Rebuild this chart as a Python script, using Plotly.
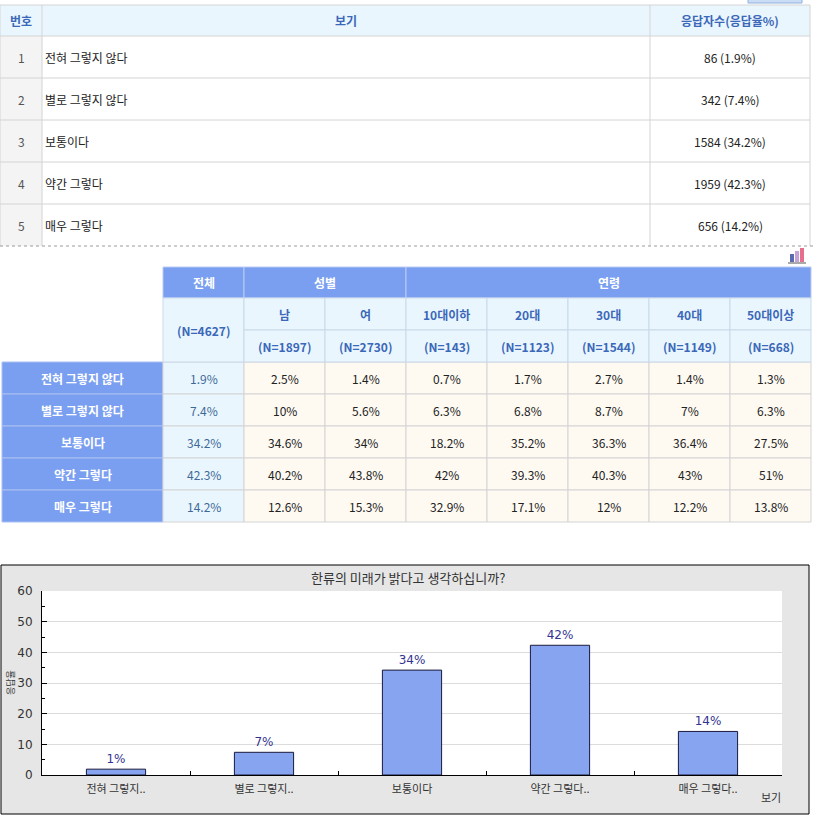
import plotly.graph_objects as go

# survey answers
options = ["전혀 그렇지 않다", "별로 그렇지 않다", "보통이다", "약간 그렇다", "매우 그렇다"]
short_options = ["전혀 그렇지..", "별로 그렇지..", "보통이다", "약간 그렇다..", "매우 그렇다.."]
counts = [86, 342, 1584, 1959, 656]
rates = [1.9, 7.4, 34.2, 42.3, 14.2]

# cross table by group
groups = ["전체", "남", "여", "10대이하", "20대", "30대", "40대", "50대이상"]
group_n = [4627, 1897, 2730, 143, 1123, 1544, 1149, 668]
pct_total = [1.9, 7.4, 34.2, 42.3, 14.2]
pct_male = [2.5, 10, 34.6, 40.2, 12.6]
pct_female = [1.4, 5.6, 34, 43.8, 15.3]
pct_10s = [0.7, 6.3, 18.2, 42, 32.9]
pct_20s = [1.7, 6.8, 35.2, 39.3, 17.1]
pct_30s = [2.7, 8.7, 36.3, 40.3, 12]
pct_40s = [1.4, 7, 36.4, 43, 12.2]
pct_50s = [1.3, 6.3, 27.5, 51, 13.8]
group_cols = [pct_total, pct_male, pct_female, pct_10s, pct_20s, pct_30s, pct_40s, pct_50s]

chart_title = "한류의 미래가 밝다고 생각하십니까?"

# page layout (pixels)
W, H = 814, 821
T1_X = [0, 42, 650, 810]
T1_Y = [5, 36, 78, 120, 162, 204, 246]
T2_X = [0, 163, 244, 325, 406, 487, 568, 649, 730, 811]
T2_Y = [267, 298, 330, 362, 394, 426, 458, 490, 522]
PLOT_X = (42, 782)
PLOT_Y = (591, 775)

KR = "Noto Sans CJK KR"
BLUE = "#7b9ff0"
LIGHT = "#eaf6fe"
CREAM = "#fefaf2"
HEAD_TXT = "#3b68b8"
GRID = "#d4d4d4"

shapes = []
notes = []


def rect(x0, y0, x1, y1, fill, line=None, width=1):
    shapes.append(dict(type="rect", xref="x2", yref="y2", x0=x0, y0=y0, x1=x1, y1=y1,
                       fillcolor=fill, line=dict(color=line or fill, width=width if line else 0),
                       layer="above"))


def hline(x0, x1, y, color=GRID, dash="solid"):
    shapes.append(dict(type="line", xref="x2", yref="y2", x0=x0, x1=x1, y0=y, y1=y,
                       line=dict(color=color, width=1, dash=dash), layer="above"))


def vline(x, y0, y1, color=GRID):
    shapes.append(dict(type="line", xref="x2", yref="y2", x0=x, x1=x, y0=y0, y1=y1,
                       line=dict(color=color, width=1), layer="above"))


def text(x, y, s, size=12, color="#333", bold=False, align="center", angle=0, family=KR):
    notes.append(dict(xref="x2", yref="y2", x=x, y=y, text=f"<b>{s}</b>" if bold else s,
                      showarrow=False, xanchor={"center": "center", "left": "left"}[align],
                      yanchor="middle", textangle=angle,
                      font=dict(family=family, size=size, color=color)))


# ---- table 1 ----
rect(T1_X[0], T1_Y[0], T1_X[-1], T1_Y[1], LIGHT)
for i in range(len(options)):
    rect(T1_X[0], T1_Y[i + 1], T1_X[1], T1_Y[i + 2], "#f4f4f4")
for y in T1_Y[:-1]:
    hline(T1_X[0], T1_X[-1], y)
for x in T1_X:
    vline(x, T1_Y[0], T1_Y[-1])
hline(0, W, T1_Y[-1], color="#9a9a9a", dash="dot")
# button edge in the corner
shapes.append(dict(type="rect", xref="x2", yref="y2", x0=748, x1=802, y0=-6, y1=3,
                   fillcolor="#c9ddf6", line=dict(color="#8fb0e0", width=1), layer="above"))

hy = (T1_Y[0] + T1_Y[1]) / 2
text((T1_X[0] + T1_X[1]) / 2, hy, "번호", bold=True, color=HEAD_TXT)
text((T1_X[1] + T1_X[2]) / 2, hy, "보기", bold=True, color=HEAD_TXT)
text((T1_X[2] + T1_X[3]) / 2, hy, "응답자수(응답율%)", bold=True, color=HEAD_TXT)
for i, opt in enumerate(options):
    cy = (T1_Y[i + 1] + T1_Y[i + 2]) / 2
    text((T1_X[0] + T1_X[1]) / 2, cy, str(i + 1), color="#555")
    text(T1_X[1] + 1, cy, opt, align="left", color="#222")
    text((T1_X[2] + T1_X[3]) / 2, cy, f"{counts[i]} ({rates[i]}%)", color="#222")

# chart icon
icon = [(790, 254, 794, 262, "#5a6bb0"), (795, 251, 799, 262, "#c7a2d6"), (800, 248, 804, 262, "#e46f8f")]
for x0, y0, x1, y1, c in icon:
    rect(x0, y0, x1, y1, c)
hline(788, 806, 263, color="#555")

# ---- table 2 ----
# data cells
for i in range(len(options)):
    y0, y1 = T2_Y[i + 3], T2_Y[i + 4]
    rect(2, y0, T2_X[1], y1, BLUE, line="#a9bff3")
    text(T2_X[1] / 2 + 1, (y0 + y1) / 2, options[i], bold=True, color="white")
    for j, col in enumerate(group_cols):
        x0, x1 = T2_X[j + 1], T2_X[j + 2]
        rect(x0, y0, x1, y1, LIGHT if j == 0 else CREAM, line=GRID)
        text((x0 + x1) / 2, (y0 + y1) / 2, f"{col[i]:g}%",
             color="#3d6a98" if j == 0 else "#222")

# header cells
top, mid, sub, bot = T2_Y[0], T2_Y[1], T2_Y[2], T2_Y[3]
rect(T2_X[1], top, T2_X[2], mid, BLUE, line="#b8caf4")
rect(T2_X[2], top, T2_X[4], mid, BLUE, line="#b8caf4")
rect(T2_X[4], top, T2_X[9], mid, BLUE, line="#b8caf4")
text((T2_X[1] + T2_X[2]) / 2, (top + mid) / 2, groups[0], bold=True, color="white")
text((T2_X[2] + T2_X[4]) / 2, (top + mid) / 2, "성별", bold=True, color="white")
text((T2_X[4] + T2_X[9]) / 2, (top + mid) / 2, "연령", bold=True, color="white")
rect(T2_X[1], mid, T2_X[2], bot, LIGHT, line="#c9d9ea")
text((T2_X[1] + T2_X[2]) / 2, (mid + bot) / 2, f"(N={group_n[0]})", bold=True, color=HEAD_TXT)
for j in range(1, len(groups)):
    x0, x1 = T2_X[j + 1], T2_X[j + 2]
    rect(x0, mid, x1, sub, LIGHT, line="#c9d9ea")
    rect(x0, sub, x1, bot, LIGHT, line="#c9d9ea")
    text((x0 + x1) / 2, (mid + sub) / 2, groups[j], bold=True, color=HEAD_TXT)
    text((x0 + x1) / 2, (sub + bot) / 2, f"(N={group_n[j]})", bold=True, color=HEAD_TXT)

# ---- bar chart frame ----
shapes.insert(0, dict(type="rect", xref="paper", yref="paper", x0=1 / W, x1=809 / W,
                      y0=1 - 814 / H, y1=1 - 565 / H, fillcolor="#e6e6e6",
                      line=dict(color="black", width=1), layer="below"))
shapes.insert(1, dict(type="rect", xref="x domain", yref="y domain", x0=0, x1=1, y0=0, y1=1,
                      fillcolor="white", line=dict(width=0), layer="below"))
text(408, 577, chart_title, size=13, color="#333")
text(771, 797, "보기", size=11, color="#333")
text(10, 683, "응답율", size=9, color="#333", angle=-90)

fig = go.Figure()
fig.add_trace(go.Bar(
    x=short_options, y=rates,
    text=[f"{int(r)}%" for r in rates],
    textposition="outside",
    textfont=dict(family="DejaVu Sans", size=12, color="#33338f"),
    marker=dict(color="#86a4ef", line=dict(color="#1a1a3c", width=1)),
    width=0.4, cliponaxis=False, hoverinfo="skip",
))
# pixel canvas for the tables
fig.add_trace(go.Scatter(x=[0, W], y=[0, H], mode="markers", marker=dict(opacity=0),
                         xaxis="x2", yaxis="y2", hoverinfo="skip", showlegend=False))

fig.update_layout(
    width=W, height=H,
    margin=dict(l=0, r=0, t=0, b=0, autoexpand=False),
    paper_bgcolor="white",
    plot_bgcolor="rgba(0,0,0,0)",
    showlegend=False,
    shapes=shapes,
    annotations=notes,
    xaxis=dict(
        domain=[PLOT_X[0] / W, PLOT_X[1] / W], automargin=False,
        showline=True, linecolor="black", linewidth=1,
        ticks="inside", tickson="boundaries", ticklen=4, tickcolor="black",
        showgrid=False, fixedrange=True, ticklabelstandoff=4,
        tickfont=dict(family=KR, size=11, color="#333"),
    ),
    yaxis=dict(
        domain=[1 - PLOT_Y[1] / H, 1 - PLOT_Y[0] / H], automargin=False,
        range=[0, 60], dtick=10,
        showline=True, linecolor="black", linewidth=1,
        ticks="inside", ticklen=5, tickcolor="black",
        minor=dict(dtick=5, ticks="inside", ticklen=3, tickcolor="black", showgrid=False),
        showgrid=True, gridcolor="#dcdcdc", zeroline=False, fixedrange=True,
        ticklabelstandoff=6,
        tickfont=dict(family="DejaVu Sans", size=12, color="#333"),
    ),
    xaxis2=dict(domain=[0, 1], range=[0, W], visible=False, fixedrange=True,
                anchor="y2", automargin=False),
    yaxis2=dict(domain=[0, 1], range=[H, 0], visible=False, fixedrange=True,
                anchor="x2", automargin=False),
)

fig.write_html("out.html", config={"displayModeBar": False},
               post_script="document.body.style.margin='0';")
